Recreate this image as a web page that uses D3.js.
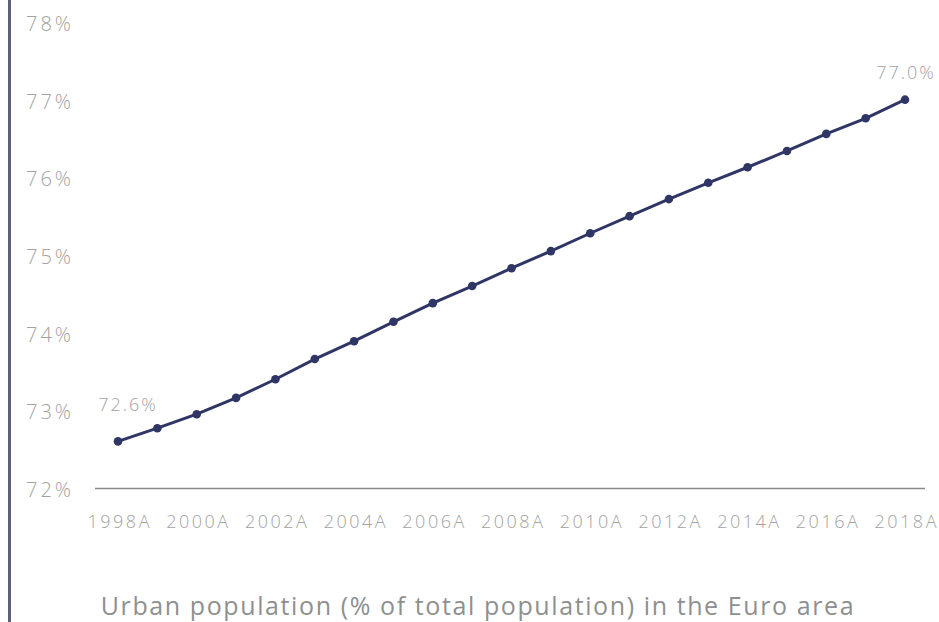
<!DOCTYPE html>
<html>
<head>
<meta charset="utf-8">
<script src="https://cdn.jsdelivr.net/npm/d3@7"></script>
<style>
  html, body { margin: 0; padding: 0; background: #fff; }
  svg { display: block; }
</style>
</head>
<body>
<svg id="chart" width="939" height="622"></svg>
<script>
// Urban population share in the Euro area, 1998–2018
const years = ["1998A","1999A","2000A","2001A","2002A","2003A","2004A","2005A","2006A","2007A",
               "2008A","2009A","2010A","2011A","2012A","2013A","2014A","2015A","2016A","2017A","2018A"];
const urbanShare = [72.6, 72.77, 72.95, 73.16, 73.40, 73.66, 73.89, 74.14, 74.38, 74.60,
                    74.83, 75.05, 75.28, 75.50, 75.72, 75.93, 76.13, 76.34, 76.56, 76.76, 77.0];
const yTicks = [72, 73, 74, 75, 76, 77, 78];
const xTickLabels = ["1998A","2000A","2002A","2004A","2006A","2008A","2010A","2012A","2014A","2016A","2018A"];
const labelledPoints = ["1998A", "2018A"];
const title = "Urban population (% of total population) in the Euro area";

const svg = d3.select("#chart");
const font = "'Open Sans', 'Segoe UI', sans-serif";
const textGrey = "#a2a2a2";

const x = d3.scalePoint().domain(years).range([118, 905]);
const y = d3.scaleLinear().domain([72, 78]).range([488, 22]);

// left frame line
svg.append("line")
  .attr("x1", 9.5).attr("x2", 9.5).attr("y1", 0).attr("y2", 622)
  .attr("stroke", "#5c6178").attr("stroke-width", 3);

// y axis labels
const yAxis = d3.axisLeft(y).tickValues(yTicks).tickFormat(d => d + "%").tickSize(0).tickPadding(0);
const gy = svg.append("g").attr("transform", "translate(74,2)").call(yAxis);
gy.select(".domain").remove();
gy.selectAll("text")
  .attr("fill", textGrey).attr("font-family", font).attr("font-size", 20)
  .attr("font-weight", 300).attr("letter-spacing", "3px");

// x axis with baseline
const xAxis = d3.axisBottom(x).tickValues(xTickLabels).tickSize(0).tickPadding(27);
const gx = svg.append("g").attr("transform", `translate(0,${y(72)})`).call(xAxis);
gx.select(".domain")
  .attr("d", `M${95},0.5H${925}`)
  .attr("stroke", "#8a8a8a").attr("stroke-width", 1.6);
gx.selectAll("text")
  .attr("fill", textGrey).attr("font-family", font).attr("font-size", 18)
  .attr("font-weight", 300).attr("letter-spacing", "2.5px")
  .attr("dx", "1.25px");

// series line
const line = d3.line().x((d, i) => x(years[i])).y(d => y(d));
svg.append("path")
  .datum(urbanShare)
  .attr("d", line)
  .attr("fill", "none")
  .attr("stroke", "#2f3665")
  .attr("stroke-width", 3);

svg.append("g").selectAll("circle")
  .data(urbanShare)
  .join("circle")
  .attr("cx", (d, i) => x(years[i]))
  .attr("cy", d => y(d))
  .attr("r", 4.3)
  .attr("fill", "#2f3665");

// end-point value labels: first sits up-right of its point, last sits above
const labelShift = { "1998A": [10, -30], "2018A": [1, -21] };
svg.append("g").selectAll("text")
  .data(labelledPoints)
  .join("text")
  .attr("x", d => x(d) + labelShift[d][0])
  .attr("y", d => y(urbanShare[years.indexOf(d)]) + labelShift[d][1])
  .attr("text-anchor", "middle")
  .attr("fill", textGrey).attr("font-family", font).attr("font-size", 18)
  .attr("font-weight", 300).attr("letter-spacing", "2px")
  .text(d => urbanShare[years.indexOf(d)].toFixed(1) + "%");

// chart title
svg.append("text")
  .attr("x", 478).attr("y", 615)
  .attr("text-anchor", "middle")
  .attr("fill", "#8f8f8f").attr("font-family", font).attr("font-size", 25)
  .attr("letter-spacing", "1.6px")
  .text(title);
</script>
</body>
</html>
